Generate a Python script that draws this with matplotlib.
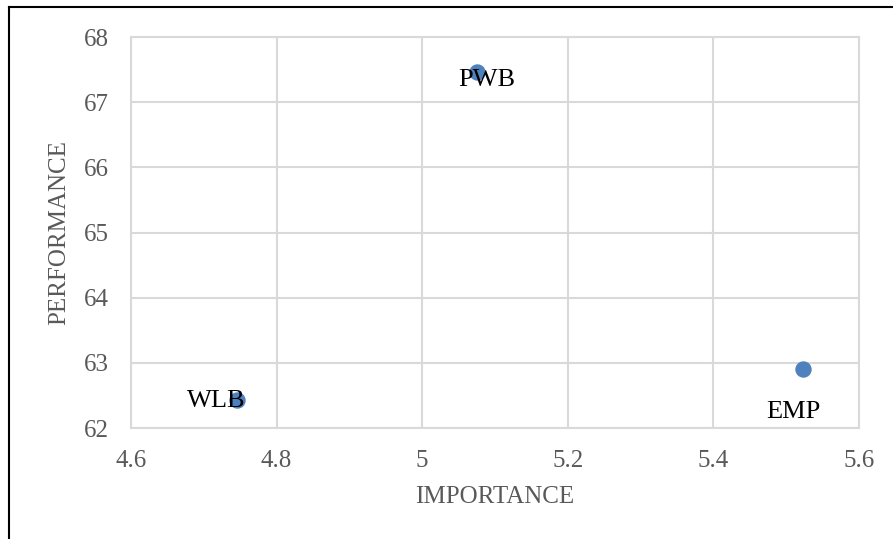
import matplotlib
matplotlib.use("Agg")
import matplotlib.pyplot as plt
from matplotlib.lines import Line2D

# Data
labels = ["PWB", "WLB", "EMP"]
importance = [5.075, 4.746, 5.523]
performance = [67.46, 62.43, 62.90]
x_ticks = [4.6, 4.8, 5.0, 5.2, 5.4, 5.6]
x_tick_labels = ["4.6", "4.8", "5", "5.2", "5.4", "5.6"]
y_ticks = [62, 63, 64, 65, 66, 67, 68]
x_title = "IMPORTANCE"
y_title = "PERFORMANCE"

# label offsets in points (dx, dy of baseline-centre relative to marker)
label_offsets = [(7.0, -9.6), (-15.3, -4.8), (-7.2, -35.3)]

W, H = 893, 539
fig = plt.figure(figsize=(W / 100, H / 100), dpi=100)
ax = fig.add_axes([131 / W, 1 - 428 / H, (859 - 131) / W, (428 - 37) / H])

grid_col = "#d9d9d9"
tick_col = "#595959"
serif = ["Liberation Serif", "DejaVu Serif"]

ax.set_xlim(4.6, 5.6)
ax.set_ylim(62, 68)
ax.set_xticks(x_ticks)
ax.set_xticklabels(x_tick_labels)
ax.set_yticks(y_ticks)
ax.grid(True, color=grid_col, linewidth=1.5, zorder=0)
ax.set_axisbelow(True)
for s in ax.spines.values():
    s.set_color(grid_col)
    s.set_linewidth(1.5)
ax.tick_params(length=0, labelsize=18, labelcolor=tick_col)
for t in ax.get_xticklabels() + ax.get_yticklabels():
    t.set_family(serif)
ax.tick_params(axis="y", pad=16)
ax.tick_params(axis="x", pad=16)

ax.plot(importance, performance, linestyle="none", marker="o", markersize=10.8,
        color="#4f81bd", zorder=3)

for lab, xv, yv, (dx, dy) in zip(labels, importance, performance, label_offsets):
    ax.annotate(lab, (xv, yv), xytext=(dx, dy), textcoords="offset points",
                ha="center", va="baseline", fontsize=19, family=serif,
                color="black", zorder=4)

fig.text(495 / W, 1 - 497 / H, x_title, ha="center", va="center",
         fontsize=18, family=serif, color=tick_col)
fig.text(59 / W, 1 - 233 / H, y_title, ha="center", va="center",
         rotation=90, fontsize=18, family=serif, color=tick_col)

# outer border (top and left visible)
fig.add_artist(Line2D([9 / W, 1.0], [1 - 7 / H, 1 - 7 / H], transform=fig.transFigure,
                      color="black", linewidth=1.5))
fig.add_artist(Line2D([9 / W, 9 / W], [0.0, 1 - 7 / H], transform=fig.transFigure,
                      color="black", linewidth=1.5))

fig.savefig("out.png", dpi=100)
